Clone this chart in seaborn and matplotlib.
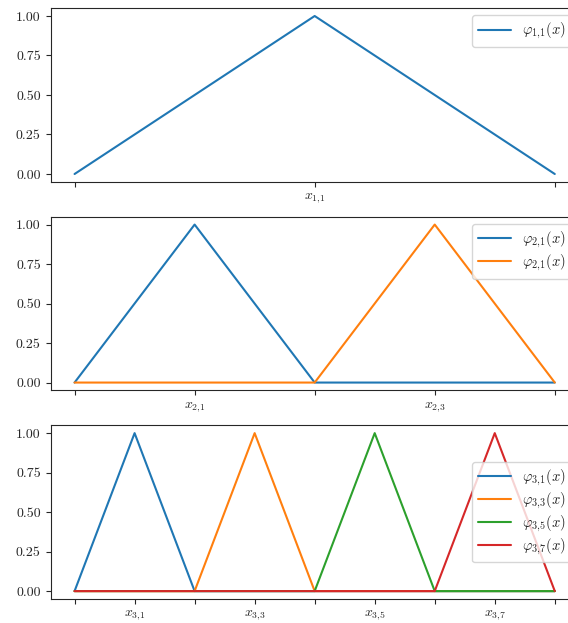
import numpy as np
import pandas as pd
import seaborn as sns
from matplotlib import pyplot as plt

# knots and hat function values for each level
knots_1 = [0.0, 0.5, 1.0]
phi_1_1 = [0, 1, 0]

knots_2 = [0.0, 0.25, 0.5, 0.75, 1.0]
phi_2_1 = [0, 1, 0, 0, 0]
phi_2_3 = [0, 0, 0, 1, 0]

knots_3 = [0.0, 0.125, 0.25, 0.375, 0.5, 0.625, 0.75, 0.875, 1.0]
phi_3_1 = [0, 1, 0, 0, 0, 0, 0, 0, 0]
phi_3_3 = [0, 0, 0, 1, 0, 0, 0, 0, 0]
phi_3_5 = [0, 0, 0, 0, 0, 1, 0, 0, 0]
phi_3_7 = [0, 0, 0, 0, 0, 0, 0, 1, 0]

labels_1 = ["", r"$x_{1,\!1}$", ""]
labels_2 = ["", r"$x_{2,\!1}$", "", r"$x_{2,\!3}$", ""]
labels_3 = ["", r"$x_{3,\!1}$", "", r"$x_{3,\!3}$", "", r"$x_{3,\!5}$", "", r"$x_{3,\!7}$", ""]

levels = [
    (knots_1, [(phi_1_1, r"$\varphi_{1,\!1}(x)$")], labels_1, "upper right"),
    (knots_2, [(phi_2_1, r"$\varphi_{2,\!1}(x)$"),
               (phi_2_3, r"$\varphi_{2,\!1}(x)$")], labels_2, "upper right"),
    (knots_3, [(phi_3_1, r"$\varphi_{3,\!1}(x)$"),
               (phi_3_3, r"$\varphi_{3,\!3}(x)$"),
               (phi_3_5, r"$\varphi_{3,\!5}(x)$"),
               (phi_3_7, r"$\varphi_{3,\!7}(x)$")], labels_3, "center right"),
]

sns.set_style("ticks")
plt.rcParams['font.family'] = 'serif'
plt.rcParams['font.serif'] = ['cmr10', 'DejaVu Serif']
plt.rcParams['mathtext.fontset'] = 'cm'
plt.rcParams['axes.formatter.use_mathtext'] = True
plt.rcParams['font.size'] = 10

fig, axes = plt.subplots(3, 1, figsize=(5.68, 6.23), dpi=100)
fig.subplots_adjust(left=0.089, right=1.019, top=0.987, bottom=0.0385, hspace=0.2)

palette = sns.color_palette("tab10")

for ax, (knots, funcs, ticklabels, loc) in zip(axes, levels):
    for i, (vals, name) in enumerate(funcs):
        df = pd.DataFrame({"x": knots, "y": vals})
        sns.lineplot(data=df, x="x", y="y", ax=ax, color=palette[i], label=name,
                     linewidth=1.5)
    ax.set_xticks(knots)
    ax.set_xticklabels(ticklabels)
    ax.set_yticks([0, 0.25, 0.5, 0.75, 1.0])
    ax.set_yticklabels(["0.00", "0.25", "0.50", "0.75", "1.00"])
    ax.set_xlabel("")
    ax.set_ylabel("")
    for s in ax.spines.values():
        s.set_visible(True)
    ax.legend(loc=loc, fontsize=10.5, labelspacing=0.2, handlelength=2.3,
              handletextpad=0.7)

fig.savefig("out.png", dpi=100)
